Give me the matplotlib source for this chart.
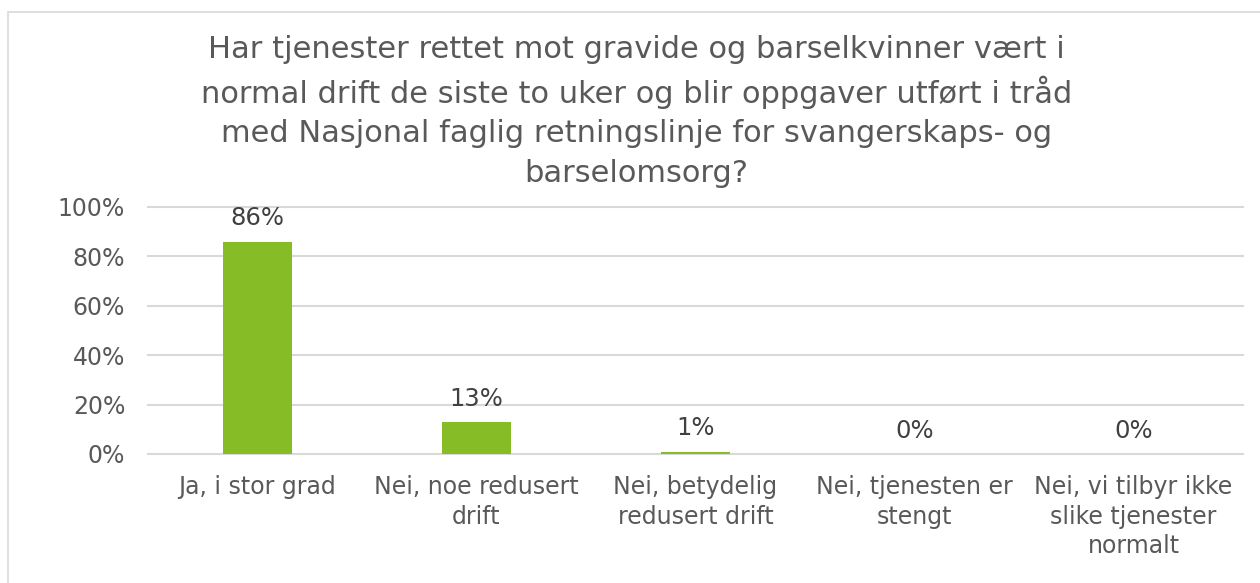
import matplotlib.pyplot as plt
from matplotlib.patches import Rectangle

categories = ["Ja, i stor grad", "Nei, noe redusert\ndrift", "Nei, betydelig\nredusert drift",
              "Nei, tjenesten er\nstengt", "Nei, vi tilbyr ikke\nslike tjenester\nnormalt"]
values = [86, 13, 1, 0, 0]
yticks = [0, 20, 40, 60, 80, 100]
title = ("Har tjenester rettet mot gravide og barselkvinner vært i\n"
         "normal drift de siste to uker og blir oppgaver utført i tråd\n"
         "med Nasjonal faglig retningslinje for svangerskaps- og\n"
         "barselomsorg?")

plt.rcParams['font.family'] = ['DejaVu Sans']
grey = '#595959'

fig = plt.figure(figsize=(12.6, 5.83), dpi=100)
fig.patches.append(Rectangle((8 / 1260, -0.1), 1.2, 1.1 - 12 / 583, transform=fig.transFigure,
                             fill=False, edgecolor='#d9d9d9', linewidth=1.2))
ax = fig.add_axes([0.1175, 0.2213, 0.869, 0.4237])

x = range(len(categories))
ax.bar(x, values, width=0.315, color='#86bc25', zorder=3)
for xi, v in zip(x, values):
    ax.text(xi, v + 4.5, f"{v}%", ha='center', va='bottom', fontsize=17.5, color='#404040')

ax.set_xlim(-0.5, len(categories) - 0.5)
ax.set_ylim(0, 100)
ax.set_yticks(yticks)
ax.set_yticklabels([f"{t}%" for t in yticks], fontsize=17, color=grey)
ax.set_xticks(list(x))
ax.set_xticklabels(categories, fontsize=17, color=grey, linespacing=1.3)
ax.tick_params(length=0, pad=15)
ax.tick_params(axis='y', pad=16.5)
ax.grid(axis='y', color='#d9d9d9', linewidth=1.5, zorder=0)
for gl in ax.get_ygridlines():
    gl.set_clip_on(False)
for s in ax.spines.values():
    s.set_visible(False)

fig.text(0.505, 0.94, title, ha='center', va='top', fontsize=22, color=grey, linespacing=1.44)

fig.savefig('out.png', dpi=100)
